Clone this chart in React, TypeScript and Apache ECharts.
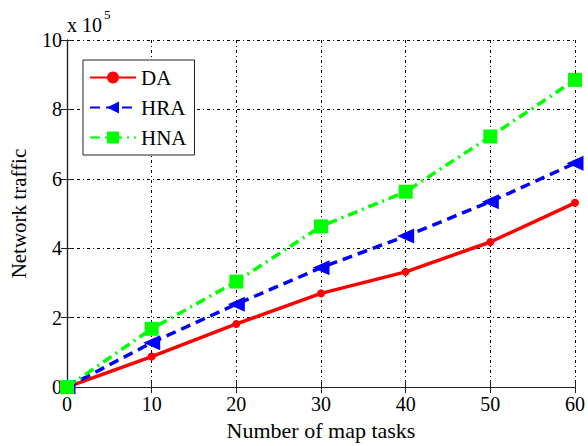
import React, { useEffect, useRef } from "react";
import * as echarts from "echarts";

const xTicks = [0, 10, 20, 30, 40, 50, 60];
const daValues = [0, 0.88, 1.82, 2.7, 3.32, 4.18, 5.31];
const hraValues = [0, 1.28, 2.39, 3.44, 4.35, 5.34, 6.45];
const hnaValues = [0, 1.68, 3.04, 4.63, 5.63, 7.22, 8.85];

const FONT = "'Liberation Serif', 'Times New Roman', Times, serif";

export default function App() {
  const ref = useRef<HTMLDivElement>(null);
  useEffect(() => {
    if (!ref.current) return;
    const chart = echarts.init(ref.current, undefined, { renderer: "svg" });
    const dotted = [3, 3, 1, 3];
    const toPairs = (vals: number[]) => vals.map((v, i) => [xTicks[i], v]);
    chart.setOption({
      animation: false,
      backgroundColor: "#fff",
      grid: { left: 67, right: 12, top: 40, bottom: 54, containLabel: false },
      xAxis: [
        {
          type: "value",
          min: 0,
          max: 60,
          interval: 10,
          name: "Number of map tasks",
          nameLocation: "middle",
          nameGap: 29,
          nameTextStyle: { fontFamily: FONT, fontSize: 22, color: "#000" },
          axisLine: { lineStyle: { color: "#222", width: 1.2 } },
          axisTick: { inside: true, length: 6, lineStyle: { color: "#222" } },
          axisLabel: { fontFamily: FONT, fontSize: 20, color: "#000", margin: 7 },
          splitLine: { show: true, lineStyle: { color: "#000", type: dotted, width: 1 } },
        },
        {
          type: "value",
          position: "top",
          min: 0,
          max: 60,
          interval: 10,
          axisLine: { show: true, lineStyle: { color: "#222", width: 1.2 } },
          axisTick: { show: true, inside: true, length: 6, lineStyle: { color: "#222" } },
          axisLabel: { show: false },
          splitLine: { show: false },
        },
      ],
      yAxis: [
        {
          type: "value",
          min: 0,
          max: 10,
          interval: 2,
          name: "Network traffic",
          nameLocation: "middle",
          nameGap: 38,
          nameTextStyle: { fontFamily: FONT, fontSize: 21, color: "#000" },
          axisLine: { show: true, lineStyle: { color: "#222", width: 1.2 } },
          axisTick: { show: true, inside: true, length: 6, lineStyle: { color: "#222" } },
          axisLabel: { fontFamily: FONT, fontSize: 20, color: "#000", margin: 5 },
          splitLine: { show: true, lineStyle: { color: "#000", type: dotted, width: 1 } },
        },
        {
          type: "value",
          position: "right",
          min: 0,
          max: 10,
          interval: 2,
          axisLine: { show: true, lineStyle: { color: "#222", width: 1.2 } },
          axisTick: { show: true, inside: true, length: 6, lineStyle: { color: "#222" } },
          axisLabel: { show: false },
          splitLine: { show: false },
        },
      ],
      legend: {
        orient: "vertical",
        left: 83,
        top: 60,
        itemWidth: 46,
        itemHeight: 15,
        itemGap: 9,
        padding: [7, 8, 7, 6],
        borderColor: "#222",
        borderWidth: 1,
        backgroundColor: "#fff",
        textStyle: { fontFamily: FONT, fontSize: 21, color: "#000" },
        data: ["DA", "HRA", "HNA"],
      },
      graphic: [
        {
          type: "text",
          x: 67,
          y: 15,
          style: { text: "x 10", font: "20px 'Liberation Serif', serif", fill: "#000" },
        },
        {
          type: "text",
          x: 104,
          y: 8,
          style: { text: "5", font: "13px 'Liberation Serif', serif", fill: "#000" },
        },
      ],
      series: [
        {
          name: "DA",
          type: "line",
          data: toPairs(daValues),
          symbol: "circle",
          symbolSize: 8,
          lineStyle: { color: "#ff0000", width: 3.5, type: "solid" },
          itemStyle: { color: "#ff0000" },
          z: 3,
        },
        {
          name: "HRA",
          type: "line",
          data: toPairs(hraValues),
          symbol: "triangle",
          symbolRotate: 90,
          symbolSize: [15, 17],
          lineStyle: { color: "#0000ff", width: 3.5, type: [10, 6] },
          itemStyle: { color: "#0000ff" },
          z: 4,
        },
        {
          name: "HNA",
          type: "line",
          data: toPairs(hnaValues),
          symbol: "rect",
          symbolSize: 14,
          lineStyle: { color: "#00ff00", width: 3.5, type: [10, 5, 2, 5] },
          itemStyle: { color: "#00ff00" },
          z: 5,
        },
      ],
    });
    return () => chart.dispose();
  }, []);
  return <div ref={ref} style={{ width: 588, height: 446, position: "absolute", left: 0, top: 0 }} />;
}
